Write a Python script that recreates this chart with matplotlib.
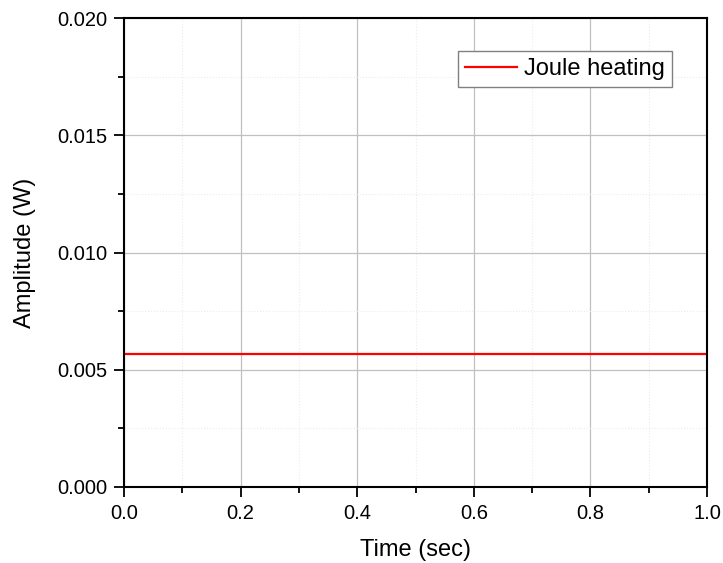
import matplotlib
matplotlib.use('Agg')
import matplotlib.pyplot as plt
from matplotlib.ticker import MultipleLocator, FormatStrFormatter

# Joule heating power, constant over time
time_sec = [0.0, 1.0]
joule_heating_w = [0.00567, 0.00567]

plt.rcParams['font.family'] = ['Liberation Sans', 'DejaVu Sans']

f = plt.figure(figsize=(7.23, 5.63), dpi=100)
ax = f.add_axes([124 / 723, 1 - 487 / 563, (707 - 124) / 723, (487 - 18) / 563])

ax.plot(time_sec, joule_heating_w, color='#ff0000', lw=1.6, label='Joule heating')

ax.set_xlim(0, 1.0)
ax.set_ylim(0, 0.020)
ax.xaxis.set_major_locator(MultipleLocator(0.2))
ax.xaxis.set_minor_locator(MultipleLocator(0.1))
ax.yaxis.set_major_locator(MultipleLocator(0.005))
ax.yaxis.set_minor_locator(MultipleLocator(0.0025))
ax.xaxis.set_major_formatter(FormatStrFormatter('%.1f'))
ax.yaxis.set_major_formatter(FormatStrFormatter('%.3f'))

ax.grid(True, which='major', color='#c0c0c0', lw=0.9)
ax.grid(True, which='minor', color='#ececec', lw=0.8, ls=':')
ax.set_axisbelow(True)

ax.tick_params(which='both', direction='out', top=False, right=False, width=1.3)
ax.tick_params(which='major', length=7, labelsize=14.5, colors='black', pad=5)
ax.tick_params(which='minor', length=4)
for s in ax.spines.values():
    s.set_linewidth(1.5)

ax.set_xlabel('Time (sec)', fontsize=17, labelpad=12)
ax.set_ylabel('Amplitude (W)', fontsize=17, labelpad=15)

ax.legend(loc='upper right', bbox_to_anchor=(0.94, 0.93), fontsize=17, frameon=True,
          fancybox=False, edgecolor='#808080', framealpha=1, handlelength=2.2,
          borderpad=0.3, handletextpad=0.3, borderaxespad=0)

f.savefig('out.png', dpi=100)
